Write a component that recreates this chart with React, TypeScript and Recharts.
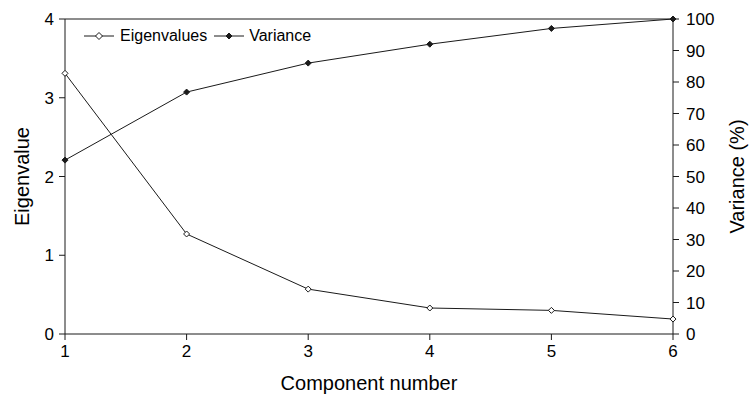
import React from "react";
import { LineChart, Line, XAxis, YAxis, ReferenceLine } from "recharts";

const components = [1, 2, 3, 4, 5, 6];
const eigenvalues = [3.31, 1.27, 0.57, 0.33, 0.3, 0.19];
const variance = [55.2, 76.8, 86.0, 92.0, 97.0, 100.0];
const leftTicks = [0, 1, 2, 3, 4];
const rightTicks = [0, 10, 20, 30, 40, 50, 60, 70, 80, 90, 100];

const data = components.map((c, i) => ({
  comp: c,
  eig: eigenvalues[i],
  varp: variance[i],
}));

const FONT = "'Liberation Sans', Arial, sans-serif";
const INK = "#1a1a1a";

const diamond = (cx: number, cy: number, r: number) =>
  `M${cx},${cy - r} L${cx + r},${cy} L${cx},${cy + r} L${cx - r},${cy} Z`;

const OpenDiamond = (props: any) => {
  const { cx, cy, r = 4.5 } = props;
  if (cx == null || cy == null) return null;
  return <path d={diamond(cx, cy, r)} fill="#fff" stroke={INK} strokeWidth={1} />;
};

const FilledDiamond = (props: any) => {
  const { cx, cy, r = 3.5 } = props;
  if (cx == null || cy == null) return null;
  return <path d={diamond(cx, cy, r)} fill={INK} stroke={INK} strokeWidth={1} />;
};

// legend sits inside the plot, top left, without pushing the plot down
const ChartLegend = () => (
  <div
    style={{
      position: "absolute",
      left: 84,
      top: 27,
      height: 18,
      display: "flex",
      alignItems: "center",
      fontFamily: FONT,
      fontSize: 16,
      color: "#000",
      whiteSpace: "nowrap",
    }}
  >
    <svg width={30} height={12}>
      <line x1={0} y1={6} x2={30} y2={6} stroke={INK} />
      <OpenDiamond cx={15} cy={6} r={3.5} />
    </svg>
    <span style={{ marginLeft: 6, marginRight: 7 }}>Eigenvalues</span>
    <svg width={30} height={12}>
      <line x1={0} y1={6} x2={30} y2={6} stroke={INK} />
      <FilledDiamond cx={15} cy={6} r={3} />
    </svg>
    <span style={{ marginLeft: 5 }}>Variance</span>
  </div>
);

export default function App() {
  return (
    <div style={{ position: "absolute", left: 0, top: 0, width: 749, height: 395, background: "#fff" }}>
      <LineChart
        width={749}
        height={395}
        data={data}
        margin={{ top: 19, right: 16, bottom: 0, left: 5 }}
      >
        <XAxis
          dataKey="comp"
          type="number"
          domain={[1, 6]}
          ticks={components}
          stroke={INK}
          tickSize={6}
          tickMargin={5}
          tick={{ fill: "#000", fontSize: 17, fontFamily: FONT }}
          height={61}
          label={{
            value: "Component number",
            position: "insideBottom",
            offset: 5,
            fill: "#000",
            fontSize: 20,
            fontFamily: FONT,
          }}
        />
        <YAxis
          yAxisId="left"
          domain={[0, 4]}
          ticks={leftTicks}
          stroke={INK}
          tickSize={6}
          tickMargin={5}
          width={60}
          tick={{ fill: "#000", fontSize: 17, fontFamily: FONT }}
          label={{
            value: "Eigenvalue",
            angle: -90,
            position: "center",
            dx: -13,
            fill: "#000",
            fontSize: 20,
            fontFamily: FONT,
          }}
        />
        <YAxis
          yAxisId="right"
          orientation="right"
          domain={[0, 100]}
          ticks={rightTicks}
          stroke={INK}
          tickSize={6}
          tickMargin={7}
          width={60}
          tick={{ fill: "#000", fontSize: 17, fontFamily: FONT }}
          label={{
            value: "Variance (%)",
            angle: -90,
            position: "center",
            dx: 34,
            fill: "#000",
            fontSize: 20,
            fontFamily: FONT,
          }}
        />
        <ReferenceLine yAxisId="left" y={4} stroke={INK} />
        <Line
          yAxisId="left"
          dataKey="eig"
          type="linear"
          stroke={INK}
          strokeWidth={1}
          dot={<OpenDiamond />}
          activeDot={false}
          isAnimationActive={false}
        />
        <Line
          yAxisId="right"
          dataKey="varp"
          type="linear"
          stroke={INK}
          strokeWidth={1}
          dot={<FilledDiamond />}
          activeDot={false}
          isAnimationActive={false}
        />
      </LineChart>
      <ChartLegend />
    </div>
  );
}
